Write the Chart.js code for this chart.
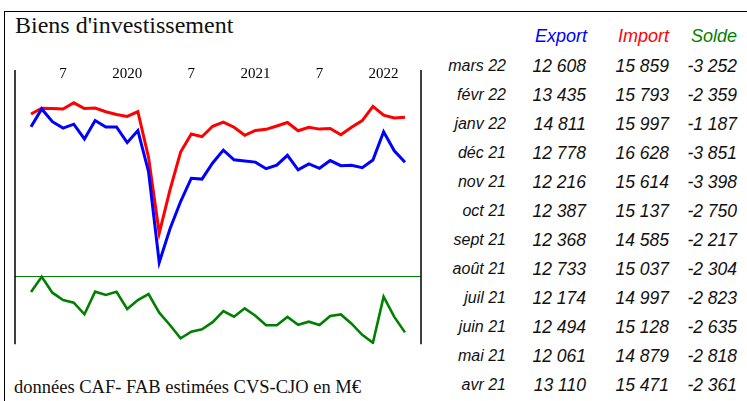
<!DOCTYPE html>
<html>
<head>
<meta charset="utf-8">
<script src="https://cdn.jsdelivr.net/npm/chart.js@4/dist/chart.umd.min.js"></script>
<style>
  html, body { margin: 0; padding: 0; background: #fff; }
  body { width: 747px; height: 401px; position: relative; overflow: hidden; }
  #frame { position: absolute; left: 4px; top: 11px; width: 760px; height: 400px;
           border-left: 1px solid #000; border-top: 1px solid #000; }
  #title { position: absolute; left: 15px; top: 12px; font-family: "Liberation Serif", serif;
           font-size: 24px; color: #111; white-space: nowrap; }
  #note { position: absolute; left: 14px; top: 377px; font-family: "Liberation Serif", serif;
          font-size: 18.5px; color: #111; white-space: nowrap; }
  #chart { position: absolute; left: 0; top: 0; }
  .cell { position: absolute; font-family: "Liberation Sans", Arial, sans-serif; font-style: italic;
          white-space: nowrap; text-align: right; line-height: 20px; }
</style>
</head>
<body>
<div id="frame"></div>
<div id="title">Biens d'investissement</div>
<canvas id="chart" width="440" height="360"></canvas>
<div id="note">données CAF- FAB estimées CVS-CJO en M€</div>
<div id="table"></div>
<script>
// months avr 2019 -> mars 2022
const months = ['avr 19','mai 19','juin 19','juil 19','août 19','sept 19','oct 19','nov 19','déc 19',
  'janv 20','févr 20','mars 20','avr 20','mai 20','juin 20','juil 20','août 20','sept 20','oct 20','nov 20','déc 20',
  'janv 21','févr 21','mars 21','avr 21','mai 21','juin 21','juil 21','août 21','sept 21','oct 21','nov 21','déc 21',
  'janv 22','févr 22','mars 22'];

const exportVals = [15171, 16450, 15530, 15070, 15350, 14290, 15620, 15149, 15150, 14020, 14890, 11930,
  5400, 7800, 9780, 11460, 11400, 12560, 13490, 12790, 12700, 12620, 12150, 12400,
  13110, 12061, 12494, 12174, 12733, 12368, 12387, 12216, 12778, 14811, 13435, 12608];

const importVals = [16085, 16500, 16480, 16440, 16890, 16480, 16510, 16251, 16050, 15910, 16260, 12960,
  7500, 10600, 13350, 14650, 14450, 15200, 15500, 15130, 14550, 14900, 14980, 15220,
  15471, 14879, 15128, 14997, 15037, 14585, 15137, 15614, 16628, 15997, 15793, 15859];

const soldeVals = [-915, -30, -955, -1378, -1534, -2206, -897, -1088, -897, -1899, -1378, -1031,
  -2113, -2826, -3596, -3213, -3075, -2663, -2015, -2345, -1859, -2287, -2843, -2843,
  -2361, -2818, -2635, -2823, -2304, -2217, -2750, -3398, -3851, -1187, -2359, -3252];

// top axis: index of month -> label
const tickIdx = [3, 9, 15, 21, 27, 33];
const tickLabels = ['7', '2020', '7', '2021', '7', '2022'];

// table on the right (latest first)
const tableRows = ['mars 22','févr 22','janv 22','déc 21','nov 21','oct 21','sept 21','août 21','juil 21','juin 21','mai 21','avr 21'];

// --- table ---
const fmt = v => {
  const s = Math.abs(v).toString().replace(/\B(?=(\d{3})+(?!\d))/g, ' ');
  return (v < 0 ? '-' : '') + s;
};
const table = document.getElementById('table');
function cell(text, right, y, size, color) {
  const d = document.createElement('div');
  d.className = 'cell';
  d.textContent = text;
  Object.assign(d.style, { right: (747 - right) + 'px', top: (y - 10) + 'px', fontSize: size + 'px', color: color });
  table.appendChild(d);
}
cell('Export', 587, 36, 18, '#0000ff');
cell('Import', 669, 36, 18, '#ff0000');
cell('Solde', 737, 36, 18, '#008000');
tableRows.forEach((lab, r) => {
  const i = months.length - 1 - r;
  const y = 65.7 + r * 29.05;
  cell(lab, 506, y, 16, '#111');
  cell(fmt(exportVals[i]), 586, y, 17.5, '#111');
  cell(fmt(importVals[i]), 669, y, 17.5, '#111');
  cell(fmt(soldeVals[i]), 737, y, 17.5, '#111');
});

// --- chart ---
const pts = arr => arr.map((v, i) => ({ x: i, y: v }));

const framePlugin = {
  id: 'frameLines',
  afterDatasetsDraw(chart) {
    const { ctx, chartArea } = chart;
    const top = chart.scales.x.bottom - 16;
    const y0 = chart.scales.ySolde.getPixelForValue(0);
    ctx.save();
    ctx.strokeStyle = '#008000';
    ctx.lineWidth = 1;
    ctx.beginPath();
    ctx.moveTo(chartArea.left, Math.round(y0) + 0.5);
    ctx.lineTo(chartArea.right, Math.round(y0) + 0.5);
    ctx.stroke();
    ctx.strokeStyle = '#000';
    ctx.lineWidth = 1.5;
    ctx.beginPath();
    ctx.moveTo(chartArea.left, top);
    ctx.lineTo(chartArea.left, chartArea.bottom);
    ctx.moveTo(chartArea.right, top);
    ctx.lineTo(chartArea.right, chartArea.bottom);
    ctx.stroke();
    ctx.restore();
  }
};

new Chart(document.getElementById('chart').getContext('2d'), {
  type: 'line',
  data: {
    datasets: [
      { label: 'Export', data: pts(exportVals), yAxisID: 'y', borderColor: '#0000ff', borderWidth: 3, pointRadius: 0, tension: 0 },
      { label: 'Import', data: pts(importVals), yAxisID: 'y', borderColor: '#ff0000', borderWidth: 3, pointRadius: 0, tension: 0 },
      { label: 'Solde', data: pts(soldeVals), yAxisID: 'ySolde', borderColor: '#008000', borderWidth: 2.6, pointRadius: 0, tension: 0 }
    ]
  },
  options: {
    responsive: false,
    animation: false,
    layout: { padding: { left: 15, right: 19, top: 60, bottom: 15.7 } },
    plugins: { legend: { display: false }, tooltip: { enabled: false } },
    scales: {
      x: {
        type: 'linear',
        position: 'top',
        min: -1.5,
        max: 36.5,
        grid: { display: false, drawTicks: false },
        border: { display: false },
        afterFit: s => { s.height = 26; },
        afterBuildTicks: s => { s.ticks = tickIdx.map(v => ({ value: v })); },
        ticks: {
          autoSkip: false,
          maxRotation: 0,
          padding: 3,
          color: '#000',
          font: { family: 'Liberation Serif', size: 15 },
          callback: v => tickLabels[tickIdx.indexOf(v)] ?? ''
        }
      },
      y: { display: false, min: -496, max: 18101 },
      ySolde: { display: false, min: -3943, max: 11013 }
    }
  },
  plugins: [framePlugin]
});
</script>
</body>
</html>
